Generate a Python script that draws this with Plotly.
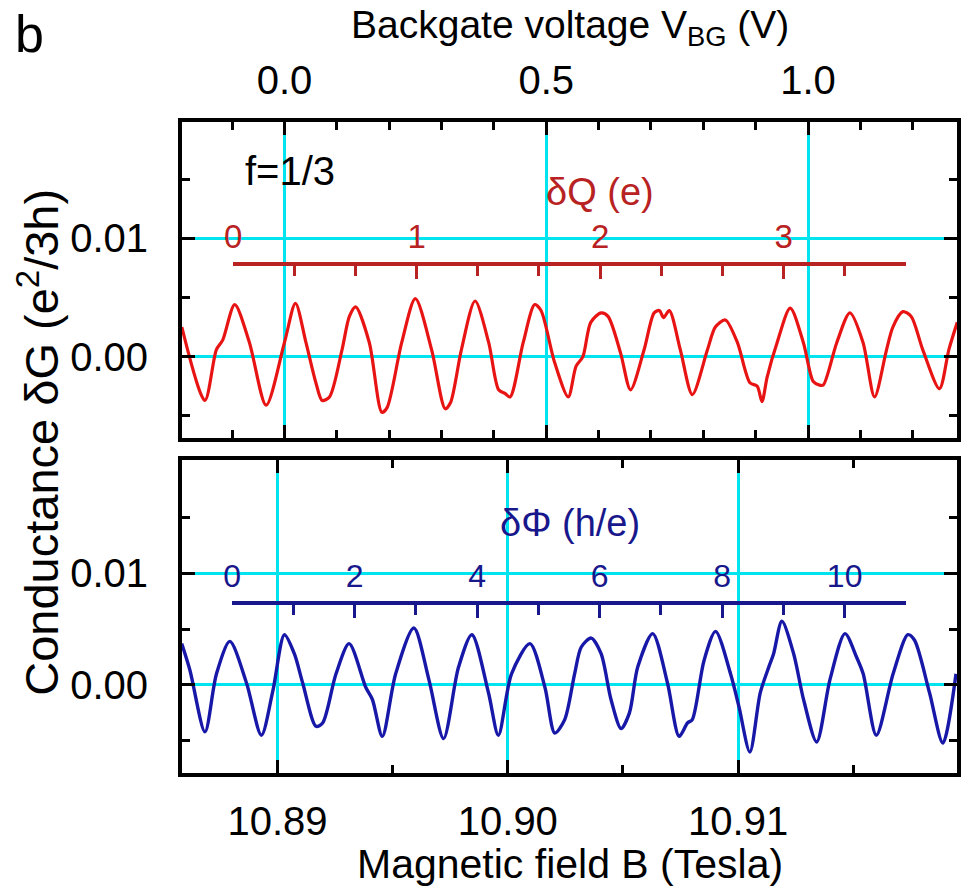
import plotly.graph_objects as go

# Top panel: conductance oscillations vs backgate voltage (V)
vbg = [-0.196, -0.152, -0.130, -0.118, -0.095, -0.067, -0.035, 0.000, 0.021, 0.041,
       0.060, 0.072, 0.086, 0.110, 0.124, 0.136, 0.162, 0.186, 0.196, 0.224,
       0.250, 0.281, 0.307, 0.317, 0.338, 0.364, 0.390, 0.409, 0.421, 0.431,
       0.456, 0.478, 0.490, 0.516, 0.542, 0.557, 0.570, 0.585, 0.605, 0.618,
       0.642, 0.661, 0.687, 0.706, 0.716, 0.724, 0.735, 0.756, 0.779, 0.808,
       0.823, 0.842, 0.865, 0.889, 0.903, 0.912, 0.922, 0.941, 0.966, 0.991,
       1.010, 1.022, 1.029, 1.055, 1.080, 1.105, 1.127, 1.150, 1.162, 1.181,
       1.197, 1.219, 1.251, 1.269, 1.285]
dg_vbg = [0.0025, -0.0037, 0.0006, 0.0014, 0.0044, 0.0012, -0.0041, 0.0012, 0.0045, 0.0012,
          -0.0022, -0.0037, -0.0034, 0.0006, 0.0034, 0.0042, 0.0012, -0.0047, -0.0043, 0.0012,
          0.0049, 0.0006, -0.0044, -0.0039, 0.0006, 0.0047, 0.0012, -0.0028, -0.0031, -0.0034,
          0.0012, 0.0044, 0.0039, -0.0005, -0.0034, -0.0008, 0.0000, 0.0029, 0.0037, 0.0034,
          0.0003, -0.0028, 0.0006, 0.0037, 0.0039, 0.0033, 0.0039, 0.0006, -0.0032, 0.0006,
          0.0025, 0.0031, 0.0012, -0.0022, -0.0025, -0.0038, -0.0017, 0.0012, 0.0041, 0.0012,
          -0.0021, -0.0024, -0.0024, 0.0012, 0.0037, 0.0012, -0.0034, 0.0006, 0.0025, 0.0038,
          0.0034, 0.0006, -0.0027, 0.0006, 0.0029]

# Bottom panel: conductance oscillations vs magnetic field (T)
b_field = [10.88584, 10.88620, 10.88685, 10.88735, 10.88793, 10.88865, 10.88930, 10.88980,
           10.89030, 10.89073, 10.89109, 10.89167, 10.89196, 10.89254, 10.89311, 10.89383,
           10.89412, 10.89455, 10.89513, 10.89592, 10.89657, 10.89721, 10.89786, 10.89844,
           10.89916, 10.89959, 10.90016, 10.90096, 10.90161, 10.90204, 10.90247, 10.90290,
           10.90319, 10.90362, 10.90405, 10.90448, 10.90492, 10.90528, 10.90564, 10.90629,
           10.90693, 10.90744, 10.90780, 10.90801, 10.90852, 10.90902, 10.90967, 10.91003,
           10.91051, 10.91096, 10.91133, 10.91154, 10.91190, 10.91241, 10.91284, 10.91341,
           10.91399, 10.91464, 10.91514, 10.91543, 10.91600, 10.91673, 10.91737, 10.91766,
           10.91831, 10.91889, 10.91946]
dg_b = [0.0037, 0.0013, -0.0042, 0.0010, 0.0039, 0.0002, -0.0045, -0.0005,
        0.0045, 0.0028, 0.0002, -0.0037, -0.0034, 0.0010, 0.0037, -0.0002,
        -0.0013, -0.0046, 0.0010, 0.0051, 0.0005, -0.0048, 0.0016, 0.0045,
        -0.0007, -0.0045, 0.0010, 0.0037, -0.0002, -0.0043, -0.0031, 0.0010,
        0.0034, 0.0042, 0.0028, -0.0013, -0.0039, -0.0025, 0.0016, 0.0046,
        0.0002, -0.0046, -0.0034, -0.0031, 0.0022, 0.0048, 0.0010, -0.0019,
        -0.0060, -0.0007, 0.0016, 0.0028, 0.0057, 0.0028, -0.0013, -0.0051,
        0.0005, 0.0046, 0.0025, 0.0010, -0.0045, 0.0010, 0.0045, 0.0040,
        -0.0007, -0.0052, 0.0010]

# Axis ticks
vbg_ticks = [0.0, 0.5, 1.0]
vbg_minor = [-0.1, 0.1, 0.2, 0.3, 0.4, 0.6, 0.7, 0.8, 0.9, 1.1, 1.2]
b_ticks = [10.89, 10.90, 10.91]
b_minor = [10.895, 10.905, 10.915]
g_ticks = [0.0, 0.01]
g_minor = [-0.005, 0.005, 0.015]

# Secondary scales: induced charge (e) and flux (h/e)
charge_ticks = [0, 1, 2, 3]
charge_minor = [1/3, 2/3, 4/3, 5/3, 7/3, 8/3, 10/3, 11/3]
charge_max = 11/3
flux_ticks = [0, 2, 4, 6, 8, 10]
flux_minor = [1, 3, 5, 7, 9, 11]
flux_max = 11

FONT = "Liberation Sans, Arial, sans-serif"
CYAN = "#00e4ef"
RED = "#e81414"
DARKRED = "#b82222"
BLUE = "#1818a8"
NAVY = "#18188c"

W, H = 961, 892
ML, MR, MT, MB = 182, 0, 122, 119
PW, PH = W - ML - MR, H - MT - MB


def px_x(p):
    return (p - ML) / PW


def px_y(p):
    return (H - MB - p) / PH


fig = go.Figure()
fig.add_trace(go.Scatter(x=vbg, y=dg_vbg, mode="lines", xaxis="x", yaxis="y",
                         line=dict(color=RED, width=3.2, shape="spline", smoothing=0.8),
                         showlegend=False, hoverinfo="skip"))
fig.add_trace(go.Scatter(x=b_field, y=dg_b, mode="lines", xaxis="x2", yaxis="y2",
                         line=dict(color=BLUE, width=3.4, shape="spline", smoothing=0.8),
                         showlegend=False, hoverinfo="skip"))
# carriers for the charge and flux scale bars
fig.add_trace(go.Scatter(x=[0], y=[None], xaxis="x3", yaxis="y3", showlegend=False,
                         hoverinfo="skip"))
fig.add_trace(go.Scatter(x=[0], y=[None], xaxis="x4", yaxis="y4", showlegend=False,
                         hoverinfo="skip"))

frame = dict(showline=True, linewidth=4, linecolor="black", mirror="allticks",
             ticks="inside", ticklen=13, tickwidth=3, tickcolor="black",
             showgrid=True, gridcolor=CYAN, gridwidth=2.5, zeroline=False,
             tickfont=dict(size=40, color="black", family=FONT))


def minor(vals):
    return dict(tickmode="array", tickvals=vals, ticks="inside", ticklen=8,
                tickwidth=3, tickcolor="black", showgrid=False)


top_dom = [px_y(438), 1.0]
bot_dom = [0.0, px_y(460)]

fig.update_layout(
    width=W, height=H,
    margin=dict(l=ML, r=MR, t=MT, b=MB),
    paper_bgcolor="white", plot_bgcolor="rgba(0,0,0,0)",
    font=dict(family=FONT, color="black"),
    xaxis=dict(frame, domain=[0, 1], anchor="y", side="top",
               range=[-0.1957, 1.2845], tickmode="array", tickvals=vbg_ticks,
               ticktext=[f"{v:.1f}" for v in vbg_ticks], minor=minor(vbg_minor),
               ticklabelstandoff=8),
    yaxis=dict(frame, domain=top_dom, anchor="x", range=[-0.00687, 0.01982],
               tickmode="array", tickvals=g_ticks,
               ticktext=[f"{v:.2f}" for v in g_ticks], minor=minor(g_minor),
               ticklabelstandoff=22),
    xaxis2=dict(frame, domain=[0, 1], anchor="y2", side="bottom",
                range=[10.885853, 10.919503], tickmode="array", tickvals=b_ticks,
                ticktext=[f"{v:.2f}" for v in b_ticks], minor=minor(b_minor),
                ticklabelstandoff=10),
    yaxis2=dict(frame, domain=bot_dom, anchor="x2", range=[-0.00788, 0.02014],
                tickmode="array", tickvals=g_ticks,
                ticktext=[f"{v:.2f}" for v in g_ticks], minor=minor(g_minor),
                ticklabelstandoff=22),
    xaxis3=dict(domain=[px_x(233), px_x(910)], anchor="free", position=px_y(264),
                side="top", range=[-0.002, charge_max + 0.002],
                showline=True, linewidth=4, linecolor=DARKRED,
                ticks="inside", ticklen=13, tickwidth=3, tickcolor=DARKRED,
                tickmode="array", tickvals=charge_ticks,
                ticktext=[str(v) for v in charge_ticks],
                minor=dict(tickmode="array", tickvals=charge_minor, ticks="inside",
                           ticklen=10, tickwidth=3, tickcolor=DARKRED, showgrid=False),
                showgrid=False, zeroline=False, ticklabelstandoff=1,
                tickfont=dict(size=33, color=DARKRED, family=FONT)),
    yaxis3=dict(domain=top_dom, anchor="x3", visible=False, range=[0, 1]),
    xaxis4=dict(domain=[px_x(232), px_x(910)], anchor="free", position=px_y(603),
                side="top", range=[-0.006, flux_max + 0.006],
                showline=True, linewidth=4, linecolor=NAVY,
                ticks="inside", ticklen=13, tickwidth=3, tickcolor=NAVY,
                tickmode="array", tickvals=flux_ticks,
                ticktext=[str(v) for v in flux_ticks],
                minor=dict(tickmode="array", tickvals=flux_minor, ticks="inside",
                           ticklen=10, tickwidth=3, tickcolor=NAVY, showgrid=False),
                showgrid=False, zeroline=False, ticklabelstandoff=1,
                tickfont=dict(size=32, color=NAVY, family=FONT)),
    yaxis4=dict(domain=bot_dom, anchor="x4", visible=False, range=[0, 1]),
)

annotations = [
    dict(text="b", xref="paper", yref="paper", x=px_x(29), y=px_y(34),
         xanchor="center", yanchor="middle", font=dict(size=52)),
    dict(text="Backgate voltage V<sub>BG</sub> (V)", xref="paper", yref="paper",
         x=0.5, y=px_y(27), xanchor="center", yanchor="middle", font=dict(size=39)),
    dict(text="Magnetic field B (Tesla)", xref="paper", yref="paper",
         x=0.5, y=px_y(864), xanchor="center", yanchor="middle", font=dict(size=41)),
    dict(text="Conductance δG (e<sup>2</sup>/3h)", xref="paper", yref="paper",
         x=px_x(38), y=px_y(442), textangle=-90, xanchor="center", yanchor="middle",
         font=dict(size=47)),
    dict(text="f=1/3", xref="x", yref="y", x=0.0114, y=0.0157,
         xanchor="center", yanchor="middle", font=dict(size=40)),
    dict(text="δQ (e)", xref="x", yref="y", x=0.602, y=0.0139,
         xanchor="center", yanchor="middle", font=dict(size=38, color=DARKRED)),
    dict(text="δΦ (h/e)", xref="x2", yref="y2", x=10.9027, y=0.0145,
         xanchor="center", yanchor="middle", font=dict(size=38, color=NAVY)),
]
for a in annotations:
    a["showarrow"] = False
    a.setdefault("font", {})
    a["font"].setdefault("family", FONT)
    a["font"].setdefault("color", "black")
fig.update_layout(annotations=annotations)

fig.write_html("out.html")
